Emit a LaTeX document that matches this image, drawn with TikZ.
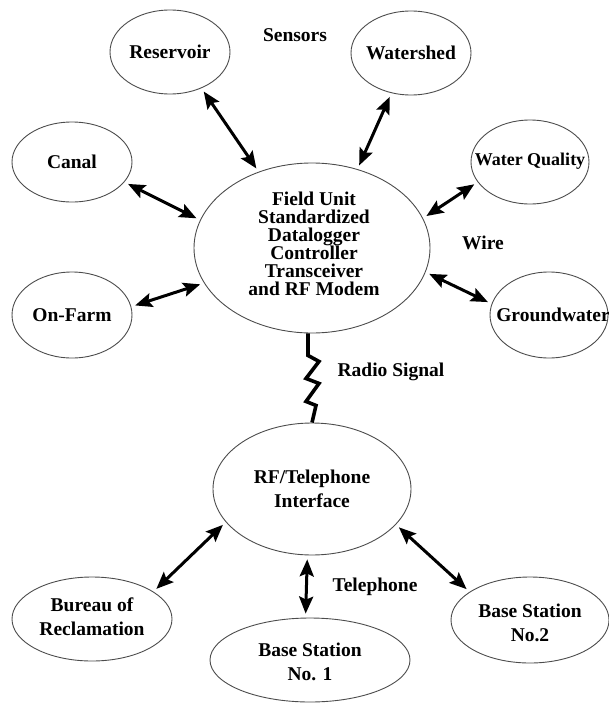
\documentclass[tikz,border=0pt]{standalone}
\usepackage{fontspec}
\setmainfont{Liberation Serif}
\usetikzlibrary{shapes.geometric,arrows.meta,calc}
\begin{document}
\begin{tikzpicture}[x=1pt,y=-1pt,
  ell/.style={ellipse, draw=black!70, line width=0.9pt, inner sep=0pt},
  sm/.style={ell, minimum width=120pt, minimum height=84pt},
  txt/.style={font=\fontsize{19.5}{24}\selectfont\bfseries, align=center, inner sep=0pt},
  link/.style={line width=3pt, {Stealth[length=17pt,width=14pt,inset=3pt]}-{Stealth[length=17pt,width=14pt,inset=3pt]}, shorten <=4pt, shorten >=4pt},
  bolt/.style={line width=3.6pt, line join=miter}
]
\useasboundingbox (0,0) rectangle (609,704);

% sensor ellipses
\node[sm] (res) at (170,52) {};
\node[txt] (res-t) at (170,52) {Reservoir};
\node[sm] (ws) at (411,53) {};
\node[txt] (ws-t) at (411,53) {Watershed};
\node[sm, minimum height=80pt] (canal) at (72,162) {};
\node[txt] (canal-t) at (72,162) {Canal};
\node[sm, minimum width=118pt] (wq) at (530,162) {};
\node[txt, font=\fontsize{18}{24}\selectfont\bfseries] (wq-t) at (530,161) {Water Quality};
\node[sm, minimum height=86pt] (onfarm) at (72,315) {};
\node[txt] (onfarm-t) at (72,315) {On-Farm};
\node[sm, minimum width=118pt, minimum height=86pt] (gw) at (549,315) {};
\node[txt] (gw-t) at (553,315) {Groundwater};

% field unit
\node[ell, minimum width=236pt, minimum height=170pt] (field) at (312,248) {};
\node[txt, font=\fontsize{19.5}{18}\selectfont\bfseries] (field-t) at (314,244)
  {Field Unit\\Standardized\\Datalogger\\Controller\\Transceiver\\and RF Modem};

% RF / telephone interface
\node[ell, minimum width=198pt, minimum height=132pt] (rf) at (312,489) {};
\node[txt] (rf-t) at (312,489) {RF/Telephone\\Interface};

% base stations
\node[ell, minimum width=160pt, minimum height=84pt] (bur) at (92,619) {};
\node[txt] (bur-t) at (92,617) {Bureau of\\Reclamation};
\node[ell, minimum width=200pt, minimum height=84pt] (bs1) at (310,660) {};
\node[txt] (bs1-t) at (310,662) {Base Station\\No. 1};
\node[ell, minimum width=158pt, minimum height=86pt] (bs2) at (530,620) {};
\node[txt] (bs2-t) at (530,623) {Base Station\\No.2};

% free labels
\node[txt] (sensors) at (295,35) {Sensors};
\node[txt] (wire) at (483,243) {Wire};
\node[txt] (radio) at (391,372) {Radio Signal};
\node[txt] (tel) at (375,587) {Telephone};

% wire links
\draw[link] (res.-49.5) -- (field.125);
\draw[link] (ws.-116) -- (field.60);
\draw[link] (canal.-21) -- (field.166);
\draw[link] (onfarm.8) -- (field.198);
\draw[link] (wq.201) -- (field.15);
\draw[link] (gw.169) -- (field.-12);

% radio signal bolt
\draw[bolt] ($(field.south)+(-4,0)$) -- ++(0,22) -- ++(11,6) -- ++(-13,17)
  -- ++(13,5) -- ++(-13,18) -- ++(10,4) -- (rf.north);

% telephone links
\draw[link] (bur.24) -- (rf.201);
\draw[link] (rf.-94) -- (bs1.96);
\draw[link] (rf.-23) -- (bs2.155);
\end{tikzpicture}
\end{document}
